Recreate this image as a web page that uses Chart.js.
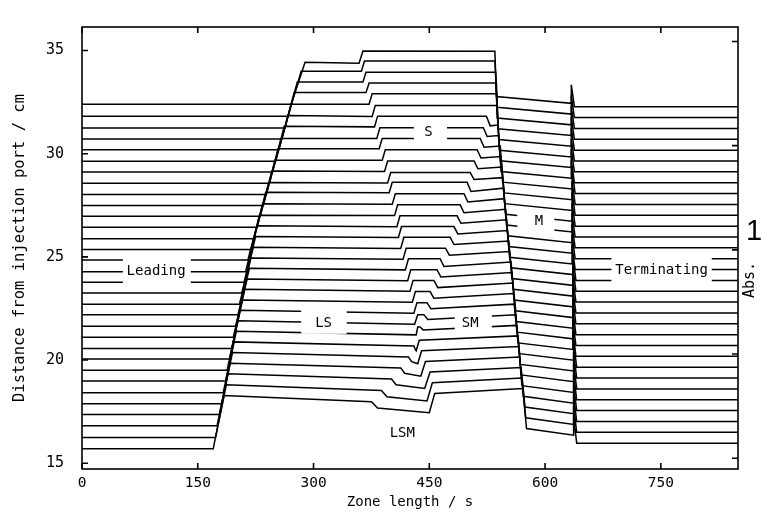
<!DOCTYPE html>
<html>
<head>
<meta charset="utf-8">
<script src="https://cdn.jsdelivr.net/npm/chart.js@4.4.0/dist/chart.umd.min.js"></script>
<style>
  html, body { margin: 0; padding: 0; background: #ffffff; }
</style>
</head>
<body>
<canvas id="chart" width="761" height="512"></canvas>
<script>
// one trace per detector position, listed from the bottom trace (k = 0) to the top one
const base = [15.70,16.25,16.81,17.36,17.88,18.42,18.98,19.50,20.05,20.56,21.11,21.64,22.19,22.71,23.25,23.77,24.28,24.85,25.36,25.88,26.43,26.97,27.49,28.02,28.57,29.11,29.63,30.19,30.71,31.25,31.82,32.40];

// leading boundary (s) and the level reached right after it (cm)
const leadStart = [170,173,175,178,181,183,186,188,191,194,196,199,202,204,207,210,212,215,219,223,227,231,235,239,243,247,251,255,259,263,267,271];
const leadEnd   = [184,187,189,192,195,197,200,202,205,208,211,214,217,219,222,225,227,230,234,238,242,246,250,254,258,262,267,271,275,279,284,289];
const leadLevel = [18.28,18.80,19.33,19.85,20.36,20.88,21.40,21.90,22.41,22.91,23.43,23.93,24.45,24.95,25.47,25.99,26.51,27.02,27.57,28.13,28.60,29.16,29.68,30.24,30.74,31.33,31.85,32.40,32.96,33.48,34.00,34.43];

// first step inside the sample zones (dip for the lower traces, S front for the upper ones)
const firstAt   = [375,388,401,413,423,430,433,431,430,428,425,422,419,416,413,410,408,405,402,398,396,392,389,385,382,379,376,372,368,364,362,359];
const preFirst  = [17.98,18.52,19.08,19.62,20.15,20.68,21.22,21.74,22.27,22.80,23.33,23.84,24.37,24.88,25.41,25.94,26.46,27.00,27.55,28.11,28.58,29.14,29.68,30.24,30.74,31.30,31.80,32.40,32.96,33.47,33.99,34.38];
const firstEnd  = [383,395,407,418,427,432,435,435,434,432,429,426,423,420,417,414,412,409,406,402,400,396,393,389,386,383,380,376,372,368,366,364];
const postFirst = [17.68,18.22,18.80,19.36,19.92,20.50,21.60,22.20,22.78,23.32,23.86,24.38,24.91,25.42,25.95,26.47,26.99,27.52,28.06,28.62,29.09,29.65,30.19,30.74,31.26,31.82,32.34,32.91,33.43,33.95,34.49,34.98];

// second step (rise into SM for the lower traces, S rear for the upper ones); none for the top six
const secondAt   = [450,447,444,439,435,433,438,443,447,451,456,460,464,471,477,482,486,490,495,499,503,508,512,516,520,524,null,null,null,null,null,null];
const preSecond  = [17.45,18.02,18.62,19.22,19.82,20.45,21.60,22.20,22.78,23.32,23.86,24.38,24.91,25.42,25.95,26.47,26.99,27.52,28.06,28.62,29.09,29.65,30.19,30.74,31.26,31.82,null,null,null,null,null,null];
const secondEnd  = [457,454,451,445,440,437,442,448,452,456,461,465,469,476,482,487,491,495,500,504,508,513,517,521,525,529,null,null,null,null,null,null];
const postSecond = [18.38,18.90,19.42,19.93,20.45,20.96,21.46,21.97,22.49,23.00,23.51,24.02,24.53,25.08,25.60,26.11,26.63,27.14,27.66,28.17,28.75,29.27,29.79,30.31,30.83,31.35,null,null,null,null,null,null];

// rear boundary into the M zone
const rearStart = [571,570,569,567,566,565,563,562,560,559,558,557,556,554,553,551,550,549,547,546,545,544,543,542,540,539,538,537,537,536,535,535];
const preRear   = [18.62,19.13,19.64,20.15,20.66,21.17,21.68,22.19,22.71,23.22,23.73,24.24,24.75,25.26,25.77,26.28,26.80,27.31,27.82,28.33,28.84,29.35,29.86,30.37,30.88,31.39,32.34,32.91,33.43,33.95,34.49,34.97];
const rearEnd   = [576,575,574,572,570,569,568,567,565,564,563,562,560,559,557,556,554,553,552,550,549,548,547,545,543,542,541,540,539,538,538,537];
const mStart    = [16.68,17.20,17.72,18.24,18.76,19.28,19.79,20.31,20.83,21.35,21.87,22.39,22.91,23.43,23.95,24.47,24.98,25.50,26.02,26.54,27.06,27.58,28.10,28.62,29.14,29.66,30.17,30.69,31.21,31.73,32.25,32.77];

// spike at the terminating boundary, then the terminating level
const spikeAt   = [637,637,637,637,637,637,637,637,636,636,636,636,636,636,636,636,635,635,635,635,635,635,635,635,634,634,634,634,634,634,634,634];
const mEnd      = [16.36,16.88,17.40,17.91,18.43,18.95,19.47,19.99,20.51,21.03,21.54,22.06,22.58,23.10,23.62,24.14,24.66,25.18,25.69,26.21,26.73,27.25,27.77,28.29,28.81,29.33,29.84,30.36,30.88,31.40,31.92,32.44];
const spikeTop  = [17.26,17.78,18.30,18.81,19.33,19.85,20.37,20.89,21.41,21.93,22.44,22.96,23.48,24.00,24.52,25.04,25.56,26.08,26.59,27.11,27.63,28.15,28.67,29.19,29.71,30.23,30.74,31.26,31.78,32.30,32.82,33.34];
const termAt    = [641,641,641,641,641,641,641,641,640,640,640,640,640,640,640,640,639,639,639,639,639,639,639,639,638,638,638,638,638,638,638,638];
const termLevel = [15.97,16.50,17.02,17.55,18.07,18.60,19.13,19.65,20.18,20.70,21.23,21.76,22.28,22.81,23.33,23.86,24.39,24.91,25.44,25.96,26.49,27.02,27.54,28.07,28.59,29.12,29.65,30.17,30.70,31.22,31.75,32.28];
const recordEnd = 850;

const xTicks = [0, 150, 300, 450, 600, 750];
const yTicks = [15, 20, 25, 30, 35];
const absTicks = [0, 1, 2, 3, 4];

// zone names, with the white patch that hides the traces behind them
const zoneLabels = [
    { text: 'Leading',     x: 96,  y: 24.29, box: [53, 141, 25.07, 23.55] },
    { text: 'LS',          x: 313, y: 21.80, box: [284, 343, 22.46, 21.27] },
    { text: 'S',           x: 449, y: 31.05, box: [430, 473, 31.67, 30.58] },
    { text: 'SM',          x: 503, y: 21.80, box: [483, 531, 22.41, 21.27] },
    { text: 'M',           x: 592, y: 26.73, box: [564, 612, 27.26, 26.16] },
    { text: 'LSM',         x: 415, y: 16.45, box: null },
    { text: 'Terminating', x: 751, y: 24.36, box: [686, 816, 24.98, 23.69] }
];

function tracePoints(k) {
    const pts = [
        { x: 0, y: base[k] },
        { x: leadStart[k], y: base[k] },
        { x: leadEnd[k], y: leadLevel[k] },
        { x: firstAt[k], y: preFirst[k] },
        { x: firstEnd[k], y: postFirst[k] }
    ];
    if (secondAt[k] !== null) {
        pts.push({ x: secondAt[k], y: preSecond[k] });
        pts.push({ x: secondEnd[k], y: postSecond[k] });
    }
    pts.push({ x: rearStart[k], y: preRear[k] });
    pts.push({ x: rearEnd[k], y: mStart[k] });
    pts.push({ x: spikeAt[k], y: mEnd[k] });
    pts.push({ x: spikeAt[k], y: spikeTop[k] });
    pts.push({ x: termAt[k], y: termLevel[k] });
    pts.push({ x: recordEnd, y: termLevel[k] });
    return pts;
}

const datasets = base.map((b, k) => ({
    label: 'trace ' + (k + 1),
    data: tracePoints(k),
    borderColor: '#000000',
    borderWidth: 1.5,
    pointRadius: 0,
    tension: 0,
    fill: false
}));

const monoFont = "'DejaVu Sans Mono', 'Liberation Mono', monospace";

// frame, inward ticks, zone names and the absorbance mark
const framePlugin = {
    id: 'frame',
    afterDatasetsDraw(chart) {
        const { ctx, chartArea: a, scales } = chart;
        const x = scales.x, y = scales.y, abs = scales.abs;

        ctx.save();
        zoneLabels.forEach(l => {
            if (l.box) {
                const x0 = x.getPixelForValue(l.box[0]);
                const x1 = x.getPixelForValue(l.box[1]);
                const y0 = y.getPixelForValue(l.box[2]);
                const y1 = y.getPixelForValue(l.box[3]);
                ctx.fillStyle = '#ffffff';
                ctx.fillRect(x0, y0, x1 - x0, y1 - y0);
            }
        });
        ctx.fillStyle = '#000000';
        ctx.font = '14px ' + monoFont;
        ctx.textAlign = 'center';
        ctx.textBaseline = 'middle';
        zoneLabels.forEach(l => {
            ctx.fillText(l.text, x.getPixelForValue(l.x), y.getPixelForValue(l.y));
        });

        ctx.strokeStyle = '#000000';
        ctx.lineWidth = 1.6;
        ctx.strokeRect(a.left, a.top, a.right - a.left, a.bottom - a.top);

        ctx.beginPath();
        xTicks.forEach(v => {
            const px = x.getPixelForValue(v);
            ctx.moveTo(px, a.bottom); ctx.lineTo(px, a.bottom - 6);
            ctx.moveTo(px, a.top); ctx.lineTo(px, a.top + 6);
        });
        yTicks.forEach(v => {
            const py = y.getPixelForValue(v);
            ctx.moveTo(a.left, py); ctx.lineTo(a.left + 6, py);
        });
        absTicks.forEach(v => {
            const py = abs.getPixelForValue(v);
            ctx.moveTo(a.right, py); ctx.lineTo(a.right - 6, py);
        });
        ctx.stroke();

        // absorbance scale mark on the right
        ctx.font = '29px ' + "'Liberation Sans', sans-serif";
        ctx.textAlign = 'center';
        ctx.textBaseline = 'middle';
        ctx.fillText('1', a.right + 16, abs.getPixelForValue(2.17));
        ctx.translate(a.right + 12, abs.getPixelForValue(1.71));
        ctx.rotate(-Math.PI / 2);
        ctx.font = '15px ' + monoFont;
        ctx.fillText('Abs.', 0, 0);
        ctx.restore();
    }
};

Chart.defaults.font.family = monoFont;
Chart.defaults.color = '#000000';

new Chart(document.getElementById('chart').getContext('2d'), {
    type: 'line',
    data: { datasets: datasets },
    plugins: [framePlugin],
    options: {
        responsive: false,
        animation: false,
        devicePixelRatio: 1,
        layout: { padding: { top: 18, right: 23, left: 0, bottom: 0 } },
        plugins: {
            legend: { display: false },
            tooltip: { enabled: false }
        },
        scales: {
            x: {
                type: 'linear',
                min: 0,
                max: 850,
                afterBuildTicks: axis => { axis.ticks = xTicks.map(v => ({ value: v })); },
                afterFit: axis => { axis.height = 43; },
                grid: { display: false, drawTicks: false },
                border: { display: false },
                ticks: { padding: 6, maxRotation: 0, color: '#000000', font: { size: 14.5 } },
                title: {
                    display: true,
                    text: 'Zone length / s',
                    color: '#000000',
                    font: { size: 14 },
                    padding: { top: 0, bottom: 1 }
                }
            },
            y: {
                type: 'linear',
                min: 14.72,
                max: 36.14,
                afterBuildTicks: axis => { axis.ticks = yTicks.map(v => ({ value: v })); },
                afterFit: axis => { axis.width = 82; },
                grid: { display: false, drawTicks: false },
                border: { display: false },
                ticks: { padding: 18, color: '#000000', font: { size: 15 } },
                title: {
                    display: true,
                    text: 'Distance from injection port / cm',
                    color: '#000000',
                    font: { size: 15.5 },
                    padding: { top: 11, bottom: 0 }
                }
            },
            abs: {
                type: 'linear',
                position: 'right',
                display: false,
                min: -0.1035,
                max: 4.139
            }
        }
    }
});
</script>
</body>
</html>
